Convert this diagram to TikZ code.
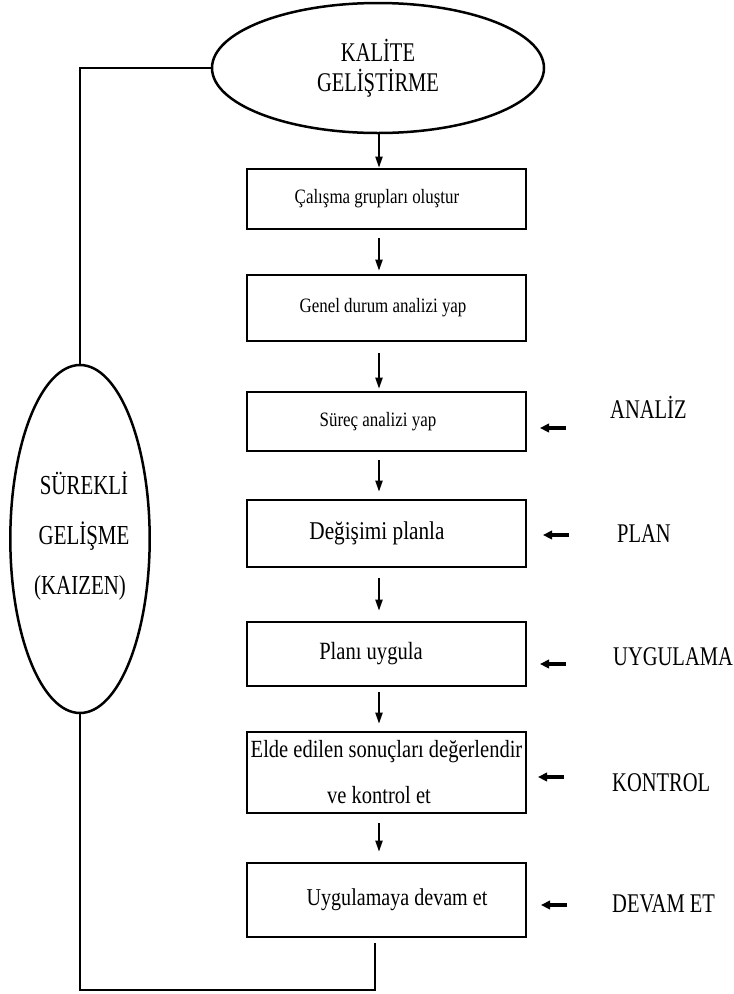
\documentclass[tikz,border=0pt]{standalone}
\usepackage{fontspec}
\setmainfont{Liberation Serif}
\newfontfamily\boxfont[FakeStretch=0.83]{Liberation Serif}
\newfontfamily\capfont[FakeStretch=0.76]{Liberation Serif}
\usetikzlibrary{shapes.geometric,arrows.meta}
\tikzset{
  stepbox/.style={draw, line width=2.6pt, minimum width=279pt, inner sep=0pt, align=center},
  smalltxt/.style={font=\boxfont\fontsize{20.4}{24}\selectfont},
  bigtxt/.style={font=\boxfont\fontsize{24.8}{28}\selectfont},
  oval/.style={ellipse, draw, line width=2.5pt, inner sep=0pt, align=center},
  lab/.style={font=\capfont\fontsize{27}{30}\selectfont, inner sep=0pt, anchor=base west},
  darr/.style={draw, line width=1.9pt, -{Triangle[length=11pt,width=7pt]}},
  rarr/.style={draw, line width=3.6pt, -{Triangle[length=9pt,width=8.5pt]}},
  loopline/.style={draw, line width=2.6pt}
}
\begin{document}
\begin{tikzpicture}[x=1pt,y=-1pt]
\useasboundingbox (0,0) rectangle (734,994);
% ellipses
\node[oval, minimum width=332pt, minimum height=130pt,
      font=\capfont\fontsize{27}{30}\selectfont] (kalite) at (378,68) {KALİTE\\GELİŞTİRME};
\node[oval, minimum width=130pt, minimum height=348pt,
      font=\capfont\fontsize{27.5}{50}\selectfont] (kaizen) at (80,539) {\hspace*{8pt}SÜREKLİ\\\hspace*{8pt}GELİŞME\\(KAIZEN)\\[-38pt]\mbox{}};
% boxes
\node[stepbox, smalltxt, minimum height=60pt] (b1) at (386.5,199) {\hspace*{-19pt}Çalışma grupları oluştur};
\node[stepbox, smalltxt, minimum height=66pt] (b2) at (386.5,308) {\hspace*{-7pt}Genel durum analizi yap};
\node[stepbox, smalltxt, minimum height=59pt] (b3) at (386.5,421.5) {\hspace*{-17pt}Süreç analizi yap};
\node[stepbox, font=\boxfont\fontsize{25.6}{28}\selectfont, minimum height=67pt] (b4) at (386.5,533.5) {\hspace*{-19pt}Değişimi planla};
\node[stepbox, bigtxt, minimum height=64pt] (b5) at (386.5,654) {\hspace*{-31pt}Planı uygula};
\node[stepbox, font=\boxfont\fontsize{24.7}{46}\selectfont, minimum height=81pt] (b6) at (386.5,772.5) {Elde edilen sonuçları değerlendir\\\hspace*{-15pt}ve kontrol et};
\node[stepbox, font=\boxfont\fontsize{24.2}{28}\selectfont, minimum height=74pt] (b7) at (386.5,900) {\hspace*{21pt}Uygulamaya devam et};
% labels
\node[lab] (lanaliz) at (610,418) {ANALİZ};
\node[lab] (lplan) at (617,542) {PLAN};
\node[lab] (luyg) at (613,665) {UYGULAMA};
\node[lab] (lkontrol) at (612,791) {KONTROL};
\node[lab] (ldevam) at (612,912) {DEVAM ET};
% down arrows
\coordinate (ax) at (379,0);
\draw[darr] (kalite.south -| ax) -- (b1.north -| ax);
\draw[darr, shorten <=8pt, shorten >=3pt] (b1.south -| ax) -- (b2.north -| ax);
\draw[darr, shorten <=11pt, shorten >=2pt] (b2.south -| ax) -- (b3.north -| ax);
\draw[darr, shorten <=8pt, shorten >=7pt] (b3.south -| ax) -- (b4.north -| ax);
\draw[darr, shorten <=10pt, shorten >=10pt] (b4.south -| ax) -- (b5.north -| ax);
\draw[darr, shorten <=5pt, shorten >=7pt] (b5.south -| ax) -- (b6.north -| ax);
\draw[darr, shorten <=9pt, shorten >=10pt] (b6.south -| ax) -- (b7.north -| ax);
% side arrows
\coordinate (s1) at (566,428); \coordinate (e1) at (540,428);
\coordinate (s2) at (569,535); \coordinate (e2) at (543,535);
\coordinate (s3) at (566,664); \coordinate (e3) at (540,664);
\coordinate (s4) at (564,777); \coordinate (e4) at (538,777);
\coordinate (s5) at (567,905); \coordinate (e5) at (541,905);
\draw[rarr] (s1) -- (e1);
\draw[rarr] (s2) -- (e2);
\draw[rarr] (s3) -- (e3);
\draw[rarr] (s4) -- (e4);
\draw[rarr] (s5) -- (e5);
% loop
\draw[loopline] (kalite.west) -| (kaizen.north);
\coordinate (ret) at (375,943);
\coordinate (rb) at (375,990);
\draw[loopline] (kaizen.south) |- (rb) -- (ret);
\end{tikzpicture}
\end{document}
